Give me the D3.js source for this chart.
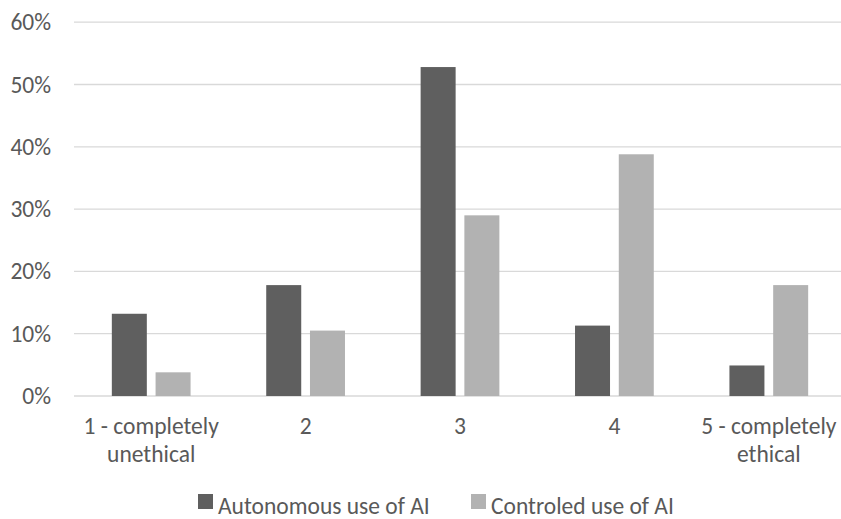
<!DOCTYPE html>
<html><head><meta charset="utf-8">
<script src="https://cdn.jsdelivr.net/npm/d3@7"></script>
<style>body{margin:0;background:#fff}svg{display:block}</style>
</head><body>
<script>
const categories = ["1 - completely|unethical", "2", "3", "4", "5 - completely|ethical"];
const seriesNames = ["Autonomous use of AI", "Controled use of AI"];
const autonomous = [13.2, 17.8, 52.8, 11.3, 4.9];
const controlled = [3.8, 10.5, 29.0, 38.8, 17.8];
const yTicks = [0, 10, 20, 30, 40, 50, 60];
const colors = ["#5f5f5f", "#b2b2b2"];

(function () {
const W = 841, H = 519;
const FONT = "Carlito, Lato, 'Open Sans', sans-serif";
const FS = 23.5;
const svg = d3.select("body").append("svg").attr("width", W).attr("height", H)
  .style("font-family", FONT);

const mLeft = 74, mRight = 846, mTop = 22.2, mBottom = 396;
const x = d3.scaleBand().domain(d3.range(categories.length)).range([mLeft, mRight]).paddingInner(0.49).paddingOuter(0.245);
const x1 = d3.scaleBand().domain([0, 1]).range([0, x.bandwidth()]).paddingInner(0.2);
const y = d3.scaleLinear().domain([0, 60]).range([mBottom, mTop]);

// gridlines
svg.append("g").selectAll("line").data(yTicks).join("line")
  .attr("x1", mLeft).attr("x2", mRight)
  .attr("y1", d => y(d)).attr("y2", d => y(d))
  .attr("stroke", "#d9d9d9").attr("stroke-width", 1.3);

// y axis labels
const yAxis = svg.append("g").attr("transform", `translate(${51},0)`)
  .call(d3.axisLeft(y).tickValues(yTicks).tickFormat(d => d + "%").tickSize(0).tickPadding(0));
yAxis.select(".domain").remove();
yAxis.selectAll("text").attr("font-size", FS).attr("fill", "#595959").attr("font-family", FONT);

// bars
const series = [autonomous, controlled];
series.forEach((vals, si) => {
  svg.append("g").selectAll("rect").data(vals).join("rect")
    .attr("x", (d, i) => x(i) + x1(si))
    .attr("width", x1.bandwidth())
    .attr("y", d => y(d))
    .attr("height", d => y(0) - y(d))
    .attr("fill", colors[si]);
});

// x axis labels
const xAxis = svg.append("g").attr("transform", `translate(0,${mBottom})`)
  .call(d3.axisBottom(x).tickSize(0).tickFormat(""));
xAxis.select(".domain").remove();
xAxis.selectAll(".tick").each(function(d) {
  const t = d3.select(this).append("text").attr("fill", "#595959").attr("font-size", FS)
    .attr("text-anchor", "middle").attr("font-family", FONT);
  categories[d].split("|").forEach((line, li) => {
    t.append("tspan").attr("x", 0).attr("y", 37.5 + li * 28).text(line);
  });
});

// legend
const legendX = [198, 471];
const lg = svg.append("g");
seriesNames.forEach((n, i) => {
  lg.append("rect").attr("x", legendX[i]).attr("y", 494).attr("width", 15).attr("height", 15).attr("fill", colors[i]);
  lg.append("text").attr("x", legendX[i] + 20).attr("y", 514).attr("font-size", FS)
    .attr("fill", "#595959").text(n);
});
})();
</script>
</body></html>
